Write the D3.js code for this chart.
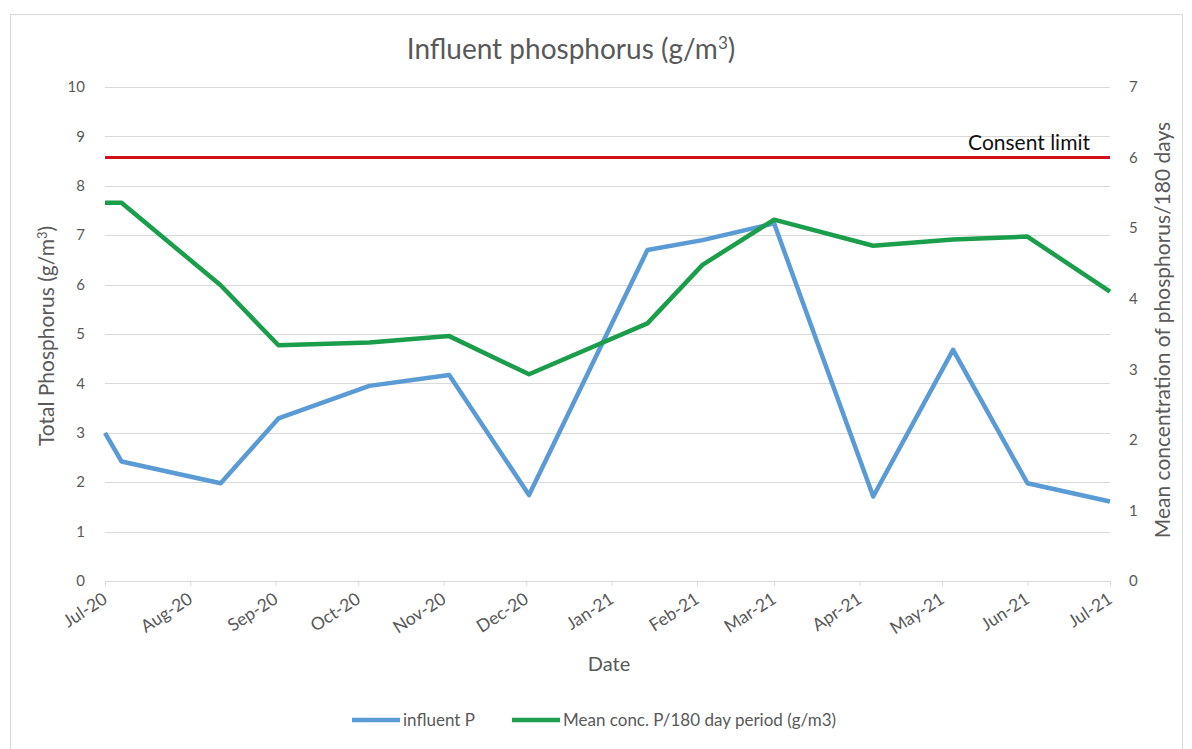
<!DOCTYPE html>
<html>
<head>
<meta charset="utf-8">
<script src="https://cdn.jsdelivr.net/npm/d3@7"></script>
<style>
  body { margin: 0; background: #fff; }
  text { font-family: Lato, "Open Sans", sans-serif; }
</style>
</head>
<body>
<div id="chart"></div>
<script>
// sample dates (shared by both series)
const dates = ["2020-07-01", "2020-07-07", "2020-08-12", "2020-09-02", "2020-10-05", "2020-11-03", "2020-12-02",
  "2021-01-14", "2021-02-03", "2021-03-01", "2021-04-06", "2021-05-05", "2021-06-01", "2021-07-01"];
// left axis, g/m3
const influentP = [3.0, 2.42, 1.98, 3.29, 3.95, 4.17, 1.74, 6.70, 6.90, 7.24, 1.71, 4.68, 1.98, 1.61];
// right axis, mean over 180 days
const meanConc = [5.36, 5.36, 4.19, 3.34, 3.38, 3.47, 2.93, 3.65, 4.48, 5.12, 4.75, 4.84, 4.88, 4.10];
const consentLimit = 6; // right axis
const leftTicks = [0, 1, 2, 3, 4, 5, 6, 7, 8, 9, 10];
const rightTicks = [0, 1, 2, 3, 4, 5, 6, 7];
const xDomain = ["2020-07-01", "2021-07-01"];

const width = 1192, height = 749;
const margin = { top: 87, right: 82, bottom: 168, left: 105 };
const parse = d3.utcParse("%Y-%m-%d");

const svg = d3.select("#chart").append("svg")
  .attr("width", width)
  .attr("height", height);

// chart frame
svg.append("rect")
  .attr("x", 10.5).attr("y", 14.5)
  .attr("width", 1172).attr("height", 745)
  .attr("fill", "#fff")
  .attr("stroke", "#d9d9d9");

const x = d3.scaleUtc()
  .domain(xDomain.map(parse))
  .range([margin.left, width - margin.right]);
const yL = d3.scaleLinear().domain([0, 10]).range([height - margin.bottom, margin.top]);
const yR = d3.scaleLinear().domain([0, 7]).range([height - margin.bottom, margin.top]);

// gridlines
svg.append("g")
  .selectAll("line")
  .data(leftTicks.filter(d => d > 0))
  .enter().append("line")
  .attr("x1", margin.left).attr("x2", width - margin.right)
  .attr("y1", d => Math.round(yL(d)) + 0.5).attr("y2", d => Math.round(yL(d)) + 0.5)
  .attr("stroke", "#d9d9d9");

// left tick labels
svg.append("g")
  .selectAll("text")
  .data(leftTicks)
  .enter().append("text")
  .attr("x", 85).attr("y", d => yL(d))
  .attr("text-anchor", "end")
  .attr("dy", "0.35em")
  .attr("font-size", 15)
  .attr("fill", "#595959")
  .text(d => d);

// right tick labels
svg.append("g")
  .selectAll("text")
  .data(rightTicks)
  .enter().append("text")
  .attr("x", 1129).attr("y", d => yR(d))
  .attr("dy", "0.35em")
  .attr("font-size", 15)
  .attr("fill", "#595959")
  .text(d => d);

// x axis
const xAxis = svg.append("g")
  .attr("transform", `translate(0,${height - margin.bottom})`)
  .call(d3.axisBottom(x).ticks(d3.utcMonth.every(1)).tickFormat(d3.utcFormat("%b-%y")).tickSizeOuter(0).tickSize(5));
xAxis.select(".domain").attr("stroke", "#d9d9d9");
xAxis.selectAll(".tick line").attr("stroke", "#d9d9d9");
xAxis.selectAll(".tick text")
  .attr("font-size", 17.5)
  .attr("font-family", "Lato, sans-serif")
  .attr("fill", "#595959")
  .attr("text-anchor", "end")
  .attr("x", 0).attr("y", 0).attr("dy", 0)
  .attr("transform", "translate(3,21) rotate(-33)");

// consent limit
svg.append("line")
  .attr("x1", x(parse(xDomain[0]))).attr("x2", x(parse(xDomain[1])))
  .attr("y1", yR(consentLimit)).attr("y2", yR(consentLimit))
  .attr("stroke", "#d0101e")
  .attr("stroke-width", 3);
svg.append("text")
  .attr("x", 1090).attr("y", yR(consentLimit) - 8)
  .attr("text-anchor", "end")
  .attr("font-size", 21)
  .attr("fill", "#111")
  .text("Consent limit");

const rows = dates.map((d, i) => ({ date: parse(d), p: influentP[i], m: meanConc[i] }));

svg.append("path")
  .datum(rows)
  .attr("fill", "none")
  .attr("stroke", "#5b9bd5")
  .attr("stroke-width", 4.5)
  .attr("stroke-linejoin", "round")
  .attr("d", d3.line().x(d => x(d.date)).y(d => yL(d.p)));

svg.append("path")
  .datum(rows)
  .attr("fill", "none")
  .attr("stroke", "#1b9e4b")
  .attr("stroke-width", 4.5)
  .attr("stroke-linejoin", "round")
  .attr("d", d3.line().x(d => x(d.date)).y(d => yR(d.m)));

// titles
svg.append("text")
  .attr("x", 571).attr("y", 59)
  .attr("text-anchor", "middle")
  .attr("font-size", 28)
  .attr("fill", "#595959")
  .html('Influent phosphorus (g/m<tspan dy="-10" font-size="17">3</tspan><tspan dy="10">)</tspan>');

svg.append("text")
  .attr("transform", "translate(54,336) rotate(-90)")
  .attr("text-anchor", "middle")
  .attr("font-size", 21)
  .attr("fill", "#595959")
  .html('Total Phosphorus (g/m<tspan dy="-7" font-size="13">3</tspan><tspan dy="7">)</tspan>');

svg.append("text")
  .attr("transform", "translate(1170,330) rotate(-90)")
  .attr("text-anchor", "middle")
  .attr("font-size", 21)
  .attr("fill", "#595959")
  .text("Mean concentration of phosphorus/180 days");

svg.append("text")
  .attr("x", 609).attr("y", 671)
  .attr("text-anchor", "middle")
  .attr("font-size", 20)
  .attr("fill", "#595959")
  .text("Date");

// legend
const legend = [
  { label: "influent P", color: "#5b9bd5", x: 352 },
  { label: "Mean conc. P/180 day period (g/m3)", color: "#1b9e4b", x: 512 }
];
const lg = svg.append("g").selectAll("g").data(legend).enter().append("g")
  .attr("transform", d => `translate(${d.x},720)`);
lg.append("line")
  .attr("x1", 0).attr("x2", 48)
  .attr("stroke", d => d.color)
  .attr("stroke-width", 4.5);
lg.append("text")
  .attr("x", 51).attr("dy", "0.35em")
  .attr("font-size", 17)
  .attr("fill", "#595959")
  .text(d => d.label);
</script>
</body>
</html>
